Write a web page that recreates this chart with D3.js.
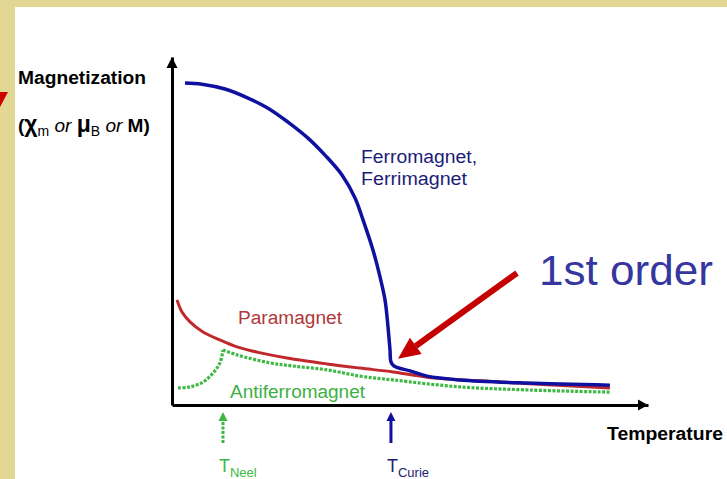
<!DOCTYPE html>
<html>
<head>
<meta charset="utf-8">
<script src="https://cdn.jsdelivr.net/npm/d3@7"></script>
<style>
  body { margin: 0; background: #fff; }
  svg text { font-family: Arial, "Liberation Sans", sans-serif; }
</style>
</head>
<body>
<div id="chart"></div>
<script>
// curves (temperature, magnetization in arbitrary units 0-100)
var ferroT = [2.73, 6.3, 11.13, 15.97, 20.17, 24.37, 28.57, 32.14, 35.71, 38.45, 40.13, 42.23, 43.7, 44.75, 45.38, 45.8, 46.0, 46.64, 50.0, 53.57, 60.5, 74.6, 92.0];
var ferroM = [92.5, 92.2, 90.8, 88.2, 85.3, 81.3, 76.7, 71.8, 66.1, 59.5, 53.2, 44.5, 36.8, 30.2, 22.4, 15.8, 12.4, 11.2, 9.8, 8.3, 7.2, 6.3, 5.7];
var paraT = [1.05, 2.1, 3.78, 6.51, 10.08, 13.66, 17.86, 24.16, 32.56, 39.5, 46.43, 53.57, 68.91, 92.0];
var paraM = [30.2, 26.7, 23.9, 21.0, 18.7, 16.7, 15.2, 13.5, 11.8, 10.6, 9.5, 8.0, 6.6, 4.9];
var antiT = [1.26, 3.78, 6.51, 8.61, 10.08, 10.71, 13.66, 20.59, 25.42, 32.56, 39.5, 46.43, 60.5, 75.2, 92.0];
var antiM = [4.9, 5.2, 6.6, 9.2, 12.1, 15.8, 14.4, 12.1, 11.2, 10.1, 8.3, 7.2, 5.2, 4.3, 3.7];
var tNeel = 10.71, tCurie = 46.0;

var width = 727, height = 479;
var svg = d3.select("#chart").append("svg")
  .attr("width", width).attr("height", height);

// slide frame
svg.append("rect").attr("x", 0).attr("y", 0).attr("width", width).attr("height", 7).attr("fill", "#e3d795");
svg.append("rect").attr("x", 0).attr("y", 0).attr("width", 15).attr("height", height).attr("fill", "#e3d795");
svg.append("polygon").attr("points", "0,92 8,92 0,107").attr("fill", "#d00000");

var x = d3.scaleLinear().domain([0, 100]).range([172, 648]);
var y = d3.scaleLinear().domain([0, 100]).range([405, 57]);

function zip(a, b) { return a.map(function(v, i){ return [v, b[i]]; }); }

var line = d3.line()
  .x(function(d){ return x(d[0]); })
  .y(function(d){ return y(d[1]); })
  .curve(d3.curveCatmullRom.alpha(0.5));

// axes
var xAxis = svg.append("g").attr("transform", "translate(0," + y(0) + ")")
  .call(d3.axisBottom(x).tickValues([]).tickSizeOuter(0));
var yAxis = svg.append("g").attr("transform", "translate(" + x(0) + ",0)")
  .call(d3.axisLeft(y).tickValues([]).tickSizeOuter(0));
[xAxis, yAxis].forEach(function(a){
  a.select(".domain").attr("stroke", "#000").attr("stroke-width", 3);
});
svg.append("path")
  .attr("d", "M" + x(100) + "," + y(0) + "l-10,-5.5v11z").attr("fill", "#000");
svg.append("path")
  .attr("d", "M" + x(0) + "," + y(100) + "l-5.5,11h11z").attr("fill", "#000");

// curves
var antiData = zip(antiT, antiM);
var split = antiT.indexOf(tNeel);
[antiData.slice(0, split + 1), antiData.slice(split)].forEach(function(seg){
  svg.append("path").attr("d", line(seg)).attr("fill", "none")
    .attr("stroke", "#3cb843").attr("stroke-width", 3.2).attr("stroke-dasharray", "3,1.5");
});
svg.append("path").attr("d", line(zip(paraT, paraM))).attr("fill", "none")
  .attr("stroke", "#c0282c").attr("stroke-width", 3);
svg.append("path").attr("d", line(zip(ferroT, ferroM))).attr("fill", "none")
  .attr("stroke", "#1010a0").attr("stroke-width", 3.5);

// labels
function label(px, py, size, txt, len) {
  return svg.append("text").attr("x", px).attr("y", py).attr("font-size", size)
    .attr("textLength", len).attr("lengthAdjust", "spacingAndGlyphs").text(txt);
}
label(18, 84, 18, "Magnetization", 128).attr("font-weight", "bold");
var sub = svg.append("text").attr("x", 18).attr("y", 132).attr("font-size", 19);
sub.append("tspan").attr("font-weight", "bold").text("(");
sub.append("tspan").attr("font-weight", "bold").attr("font-size", 23).text("χ");
sub.append("tspan").attr("font-size", 14).attr("dy", 4).text("m");
sub.append("tspan").attr("font-style", "italic").attr("dy", -4).text(" or ");
sub.append("tspan").attr("font-weight", "bold").attr("font-size", 23).text("μ");
sub.append("tspan").attr("font-size", 14).attr("dy", 4).text("B");
sub.append("tspan").attr("font-style", "italic").attr("dy", -4).text(" or ");
sub.append("tspan").attr("font-weight", "bold").text("M)");

label(607, 440, 18, "Temperature", 116).attr("font-weight", "bold");
label(361, 163, 18, "Ferromagnet,", 116).attr("fill", "#1c1c78");
label(361, 185, 18, "Ferrimagnet", 106).attr("fill", "#1c1c78");
label(238, 324, 18, "Paramagnet", 104).attr("fill", "#b0383a");
label(230, 398, 18, "Antiferromagnet", 135).attr("fill", "#3cb043");
label(539, 285, 43, "1st order", 174).attr("fill", "#3636a0");

// red annotation arrow pointing at the jump
var tip = [x(tCurie) + 7, y(12.4) - 3], tail = [517, 273];
var ang = Math.atan2(tip[1] - tail[1], tip[0] - tail[0]);
var hl = 22, hw = 10;
var base = [tip[0] - hl * Math.cos(ang), tip[1] - hl * Math.sin(ang)];
svg.append("line").attr("x1", tail[0]).attr("y1", tail[1]).attr("x2", base[0]).attr("y2", base[1])
  .attr("stroke", "#c40000").attr("stroke-width", 6);
svg.append("polygon").attr("fill", "#c40000").attr("points", [
  tip,
  [base[0] + hw * Math.sin(ang), base[1] - hw * Math.cos(ang)],
  [base[0] - hw * Math.sin(ang), base[1] + hw * Math.cos(ang)]
].map(function(p){ return p.join(","); }).join(" "));

// transition temperature markers
var marks = [
  {t: tNeel, name: "Neel", color: "#3cb843", text: "#3cb843", dash: "3,1.5"},
  {t: tCurie, name: "Curie", color: "#1010a0", text: "#202070", dash: null}
];
marks.forEach(function(m){
  var cx = x(m.t);
  svg.append("line").attr("x1", cx).attr("x2", cx).attr("y1", 443).attr("y2", 419)
    .attr("stroke", m.color).attr("stroke-width", 3).attr("stroke-dasharray", m.dash);
  svg.append("path").attr("d", "M" + cx + ",412l-4.5,9h9z").attr("fill", m.color);
  var t = svg.append("text").attr("x", cx - 4).attr("y", 472).attr("font-size", 18).attr("fill", m.text);
  t.append("tspan").text("T");
  t.append("tspan").attr("font-size", 13).attr("dy", 5).text(m.name);
});
</script>
</body>
</html>
